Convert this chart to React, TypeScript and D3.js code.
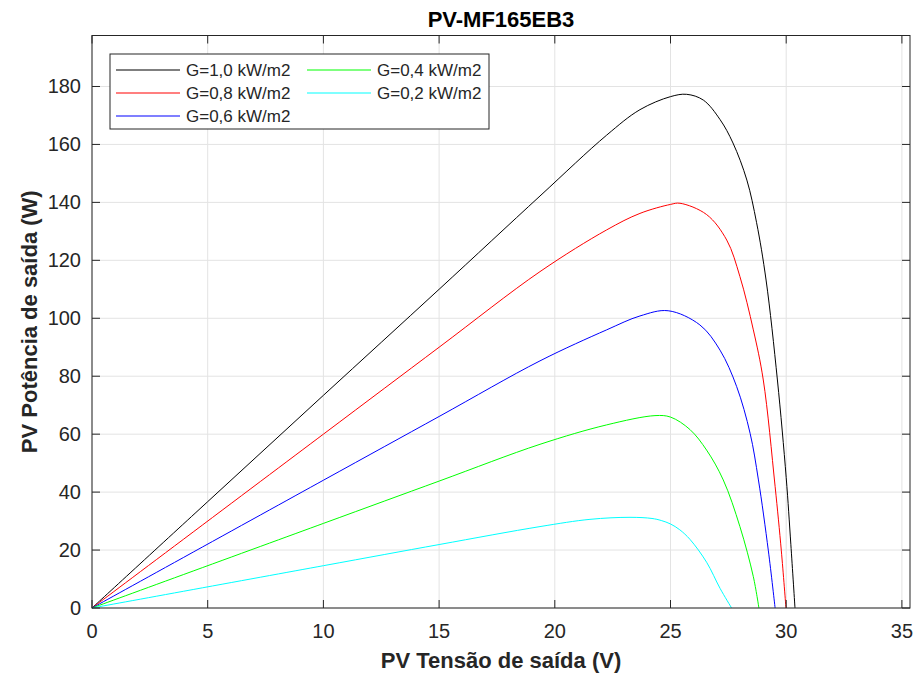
import React from "react";
import * as d3 from "d3";

const xTicks = [0, 5, 10, 15, 20, 25, 30, 35];
const yTicks = [0, 20, 40, 60, 80, 100, 120, 140, 160, 180];

const vG10 = [0, 5, 10, 15, 19.36, 22.24, 23.68, 25, 25.7, 26.42, 27.14, 27.7, 28.3, 28.72, 29.13, 29.62, 30.0, 30.2, 30.38];
const pG10 = [0, 36.7, 73.4, 110, 142.2, 163.2, 172.0, 176.5, 177.3, 175.3, 168.6, 160.5, 147.7, 133, 113.2, 78.7, 45, 22, 0];

const vG08 = [0, 10, 15, 19.36, 22.24, 23.68, 25, 25.41, 26.56, 27.43, 28.0, 28.58, 29.01, 29.52, 29.79, 29.99];
const pG08 = [0, 60, 90, 116.1, 130.5, 136.2, 139.3, 139.7, 135.8, 127, 114.4, 96, 78.7, 42, 19.7, 0];

const vG06 = [0, 10, 15, 19.36, 22.24, 23.68, 24.9, 26.27, 27.14, 27.86, 28.44, 28.8, 29.23, 29.52];
const pG06 = [0, 44.1, 66.1, 85.3, 96, 100.8, 102.6, 97.7, 89, 76.4, 60.3, 44.2, 19.7, 0];

const vG04 = [0, 10, 15, 19.36, 22.24, 24.33, 25, 25.84, 26.56, 27.28, 28.0, 28.58, 28.82];
const pG04 = [0, 29.2, 43.8, 56.5, 63.2, 66.4, 65.9, 61.6, 54.5, 44.2, 28.1, 10.8, 0];

const vG02 = [0, 10, 15, 19.36, 21.52, 23.25, 24.2, 24.6, 25.0, 25.4, 25.84, 26.56, 27.14, 27.64];
const pG02 = [0, 14.6, 21.9, 28.1, 30.6, 31.3, 30.9, 30.2, 29.0, 27.0, 23.7, 15.8, 6.8, 0];

const seriesNames = ["G=1,0 kW/m2", "G=0,8 kW/m2", "G=0,6 kW/m2", "G=0,4 kW/m2", "G=0,2 kW/m2"];
const seriesColors = ["#000000", "#ff0000", "#0000ff", "#00ff00", "#00ffff"];
const seriesV = [vG10, vG08, vG06, vG04, vG02];
const seriesP = [pG10, pG08, pG06, pG04, pG02];

const W = 918;
const H = 681;
const L = 92, R = 910, T = 35.5, B = 608;
const FONT = "'Liberation Sans', Arial, Helvetica, sans-serif";
const TXT = "#262626";

export default function App() {
  const x = d3.scaleLinear().domain([0, 35.35]).range([L, R]);
  const y = d3.scaleLinear().domain([0, 197.6]).range([B, T]);
  const line = d3
    .line<[number, number]>()
    .x((d) => x(d[0]))
    .y((d) => y(d[1]))
    .curve(d3.curveCatmullRom.alpha(0.5));

  const legendItems = seriesNames.map((n, i) => {
    const col = i < 3 ? 0 : 1;
    const row = i < 3 ? i : i - 3;
    return { n, i, col, row };
  });
  const rowY = [70, 93, 116];
  const colX = [116, 307];

  return (
    <svg
      width={W}
      height={H}
      style={{ position: "absolute", left: 0, top: 0, background: "#fff" }}
      fontFamily={FONT}
    >
      <rect x={0} y={0} width={W} height={H} fill="#ffffff" />
      {xTicks.map((t) => (
        <line key={"gx" + t} x1={x(t)} x2={x(t)} y1={T} y2={B} stroke="#e3e3e3" strokeWidth={1} />
      ))}
      {yTicks.map((t) => (
        <line key={"gy" + t} x1={L} x2={R} y1={y(t)} y2={y(t)} stroke="#e3e3e3" strokeWidth={1} />
      ))}
      {seriesV.map((vs, i) => (
        <path
          key={"s" + i}
          d={line(vs.map((v, k) => [v, seriesP[i][k]] as [number, number])) || ""}
          fill="none"
          stroke={seriesColors[i]}
          strokeWidth={1}
        />
      ))}
      {xTicks.map((t) => (
        <g key={"tx" + t}>
          <line x1={x(t)} x2={x(t)} y1={B} y2={B - 8} stroke={TXT} />
          <line x1={x(t)} x2={x(t)} y1={T} y2={T + 8} stroke={TXT} />
          <text x={x(t)} y={638} textAnchor="middle" fontSize={20} fill={TXT}>
            {t}
          </text>
        </g>
      ))}
      {yTicks.map((t) => (
        <g key={"ty" + t}>
          <line x1={L} x2={L + 8} y1={y(t)} y2={y(t)} stroke={TXT} />
          <line x1={R} x2={R - 8} y1={y(t)} y2={y(t)} stroke={TXT} />
          <text x={81} y={y(t) + 7} textAnchor="end" fontSize={20} fill={TXT}>
            {t}
          </text>
        </g>
      ))}
      <rect x={L} y={T} width={R - L} height={B - T} fill="none" stroke={TXT} strokeWidth={1} />
      <text x={(L + R) / 2} y={27} textAnchor="middle" fontSize={22} fontWeight="bold" fill="#000">
        PV-MF165EB3
      </text>
      <text x={(L + R) / 2} y={668} textAnchor="middle" fontSize={22} fontWeight="bold" fill={TXT}>
        PV Tensão de saída (V)
      </text>
      <text
        transform={`translate(37,${(T + B) / 2}) rotate(-90)`}
        textAnchor="middle"
        fontSize={22}
        fontWeight="bold"
        fill={TXT}
      >
        PV Potência de saída (W)
      </text>
      <rect x={110} y={54} width={379} height={75} fill="#fff" stroke={TXT} strokeWidth={1} />
      {legendItems.map((it) => (
        <g key={"l" + it.i}>
          <line
            x1={colX[it.col]}
            x2={colX[it.col] + 64}
            y1={rowY[it.row]}
            y2={rowY[it.row]}
            stroke={seriesColors[it.i]}
            strokeWidth={1.2}
          />
          <text x={colX[it.col] + 70} y={rowY[it.row] + 6} fontSize={17} fill={TXT}>
            {it.n}
          </text>
        </g>
      ))}
    </svg>
  );
}
